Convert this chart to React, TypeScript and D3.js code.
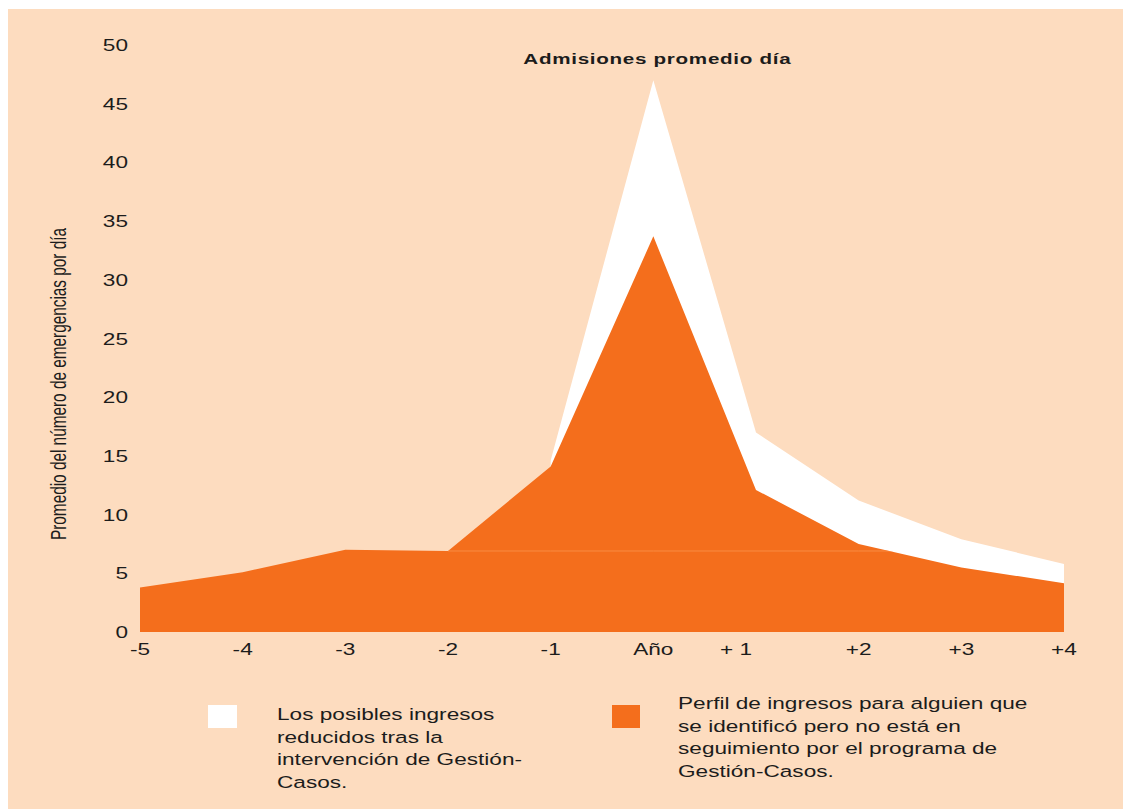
import React from "react";
import * as d3 from "d3";

// Years relative to the year the patient was identified
const years = ["-5", "-4", "-3", "-2", "-1", "Año", "+ 1", "+2", "+3", "+4"];
// Average emergency admissions per day, patient not followed by the programme
const perfilSinSeguimiento = [3.8, 5.1, 7.0, 6.9, 14.1, 33.7, 12.1, 7.5, 5.5, 4.15];
// Upper envelope: admissions avoidable with the case-management intervention
const ingresosReducidos: (number | null)[] = [null, null, null, null, 14.6, 47.0, 17.0, 11.2, 7.9, 5.8];
// Pre-existing baseline level visible as a seam inside the orange area
const nivelBase: (number | null)[] = [null, null, null, 6.9, 6.9, 6.9, 6.9, 6.9, 6.9, 6.9];
const yTicks = [0, 5, 10, 15, 20, 25, 30, 35, 40, 45, 50];

const titulo = "Admisiones promedio día";
const tituloEjeY = "Promedio del número de emergencias por día";
const leyendaBlanca = ["Los posibles ingresos", "reducidos tras la", "intervención de Gestión-", "Casos."];
const leyendaNaranja = [
  "Perfil de ingresos para alguien que",
  "se identificó pero no está en",
  "seguimiento por el programa de",
  "Gestión-Casos.",
];

const BG = "#FDDCBF";
const ORANGE = "#F46E1C";
const SEAM = "#F98D43";
const INK = "#1c1c1c";
const FONT = "'Liberation Sans', Arial, sans-serif";
const SX = 1.33; // horizontal stretch of the lettering

function SText(props: {
  x: number;
  y: number;
  anchor?: "start" | "middle" | "end";
  size?: number;
  weight?: string | number;
  children: React.ReactNode;
  extra?: React.SVGProps<SVGTextElement>;
}) {
  const { x, y, anchor = "start", size = 17, weight = "normal", children, extra } = props;
  return (
    <text
      transform={`translate(${x},${y}) scale(${SX},1)`}
      textAnchor={anchor}
      fontFamily={FONT}
      fontSize={size}
      fontWeight={weight}
      fill={INK}
      {...extra}
    >
      {children}
    </text>
  );
}

export default function App() {
  const x = d3.scalePoint<string>().domain(years).range([140, 1064]);
  const y = d3.scaleLinear().domain([0, 50]).range([632, 45]);

  const area = d3
    .area<number | null>()
    .defined((d) => d != null)
    .x((_, i) => x(years[i])!)
    .y0(y(0))
    .y1((d) => y(d as number));

  const line = d3
    .line<number | null>()
    .defined((d) => d != null)
    .x((_, i) => x(years[i])!)
    .y((d) => y(d as number));

  const orangePath = area(perfilSinSeguimiento) || "";
  const whitePath = area(ingresosReducidos) || "";
  const seamPath = line(nivelBase) || "";

  const labelShift = (d: string) => (d === "+ 1" ? -20 : 0);

  return (
    <svg
      width={1123}
      height={809}
      style={{ position: "absolute", left: 0, top: 0, display: "block" }}
    >
      <defs>
        <clipPath id="orange-clip">
          <path d={orangePath} />
        </clipPath>
      </defs>
      <rect x={8} y={9} width={1115} height={800} fill={BG} />

      {/* areas */}
      <path d={whitePath} fill="#ffffff" />
      <path d={orangePath} fill={ORANGE} />
      <path d={seamPath} fill="none" stroke={SEAM} strokeWidth={1} clipPath="url(#orange-clip)" />

      {/* y axis labels */}
      {yTicks.map((t) => (
        <SText key={t} x={128} y={y(t) + 6} anchor="end">
          {t}
        </SText>
      ))}

      {/* x axis labels */}
      {years.map((d) => (
        <SText key={d} x={x(d)! + labelShift(d)} y={655} anchor="middle">
          {d}
        </SText>
      ))}

      {/* title */}
      <text
        transform={`translate(657,64) scale(${SX},1)`}
        textAnchor="middle"
        fontFamily={FONT}
        fontSize={15.5}
        fontWeight="bold"
        fill={INK}
        textLength={201}
        lengthAdjust="spacing"
      >
        {titulo}
      </text>

      {/* y axis title */}
      <text
        transform={`translate(66,384) scale(${SX},1) rotate(-90)`}
        textAnchor="middle"
        fontFamily={FONT}
        fontSize={16}
        fill={INK}
        textLength={312}
        lengthAdjust="spacingAndGlyphs"
      >
        {tituloEjeY}
      </text>

      {/* legend */}
      <rect x={208} y={705} width={29} height={23} fill="#ffffff" />
      {leyendaBlanca.map((t, i) => (
        <SText key={t} x={277} y={720 + i * 22.5}>
          {t}
        </SText>
      ))}
      <rect x={612} y={705} width={28} height={23} fill={ORANGE} />
      {leyendaNaranja.map((t, i) => (
        <SText key={t} x={678} y={709 + i * 22.7}>
          {t}
        </SText>
      ))}
    </svg>
  );
}
